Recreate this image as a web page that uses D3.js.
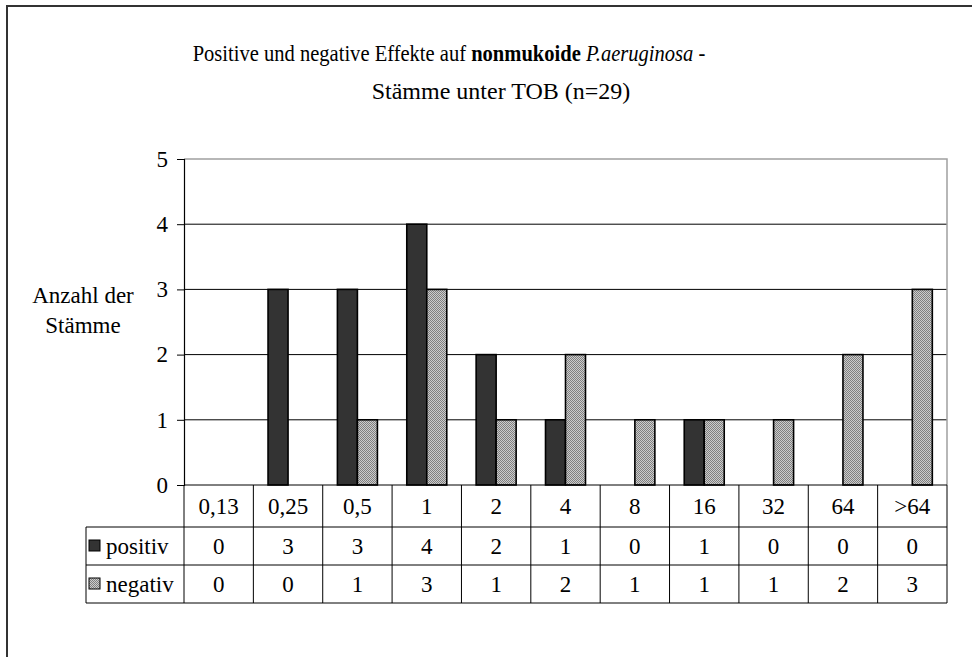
<!DOCTYPE html>
<html>
<head>
<meta charset="utf-8">
<script src="https://cdn.jsdelivr.net/npm/d3@7"></script>
<style>
  body { margin: 0; background: #fff; }
  text { font-family: "Liberation Serif", "Times New Roman", serif; fill: #000; }
</style>
</head>
<body>
<div id="chart"></div>
<script>
const categories = ['0,13', '0,25', '0,5', '1', '2', '4', '8', '16', '32', '64', '>64'];
const seriesNames = ['positiv', 'negativ'];
const positiv = [0, 3, 3, 4, 2, 1, 0, 1, 0, 0, 0];
const negativ = [0, 0, 1, 3, 1, 2, 1, 1, 1, 2, 3];
const yTicks = [0, 1, 2, 3, 4, 5];

const width = 972;
const height = 657;
const plot = { left: 184, right: 947, top: 159, bottom: 485 };
const rowH = [42, 38, 38];
const tableLeft = 86;
const fontSize = '23px';

const svg = d3.select('#chart')
    .append('svg')
    .attr('width', width)
    .attr('height', height);

// checker pattern for the grey series
const defs = svg.append('defs');
const pat = defs.append('pattern')
    .attr('id', 'grey-check')
    .attr('width', 2)
    .attr('height', 2)
    .attr('patternUnits', 'userSpaceOnUse');
pat.append('rect').attr('width', 2).attr('height', 2).attr('fill', '#cccccc');
pat.append('rect').attr('width', 1).attr('height', 1).attr('fill', '#808080');
pat.append('rect').attr('x', 1).attr('y', 1).attr('width', 1).attr('height', 1).attr('fill', '#808080');

const fills = { positiv: '#333333', negativ: 'url(#grey-check)' };

// outer frame (runs off the page on right and bottom)
svg.append('path')
    .attr('d', 'M7,' + (height + 5) + 'V6H' + (width + 5))
    .attr('fill', 'none')
    .attr('stroke', '#333')
    .attr('stroke-width', 2);

// title, two lines
const t1 = svg.append('text')
    .attr('x', 0)
    .attr('y', 0)
    .attr('text-anchor', 'middle')
    .style('font-size', '23px');
t1.append('tspan').text('Positive und negative Effekte auf ');
t1.append('tspan').style('font-weight', 'bold').text('nonmukoide');
t1.append('tspan').text(' ');
t1.append('tspan').style('font-style', 'italic').text('P.aeruginosa');
t1.append('tspan').text(' -');
// line 1 is narrower in the original; squeeze it sideways to that width
const w1 = t1.node().getComputedTextLength();
t1.attr('transform', 'translate(449,61) scale(' + (513 / w1).toFixed(4) + ',1)');

svg.append('text')
    .attr('x', 501)
    .attr('y', 99)
    .attr('text-anchor', 'middle')
    .style('font-size', '24px')
    .text('Stämme unter TOB (n=29)');

const xScale = d3.scaleBand()
    .domain(categories)
    .range([plot.left, plot.right]);

const xInner = d3.scaleBand()
    .domain(seriesNames)
    .range([0, 40]);

const yScale = d3.scaleLinear()
    .domain([0, 5])
    .range([plot.bottom, plot.top]);

// gridlines
svg.append('g')
    .selectAll('line')
    .data(yTicks.filter(d => d > 0 && d < 5))
    .enter()
    .append('line')
    .attr('x1', plot.left)
    .attr('x2', plot.right)
    .attr('y1', d => yScale(d))
    .attr('y2', d => yScale(d))
    .attr('stroke', '#000')
    .attr('stroke-width', 1);

// plot-area border top/right in grey
svg.append('path')
    .attr('d', 'M' + plot.left + ',' + plot.top + 'H' + plot.right + 'V' + plot.bottom)
    .attr('fill', 'none')
    .attr('stroke', '#a0a0a0')
    .attr('stroke-width', 1.5);

// bars
const rows = [positiv, negativ];
seriesNames.forEach((name, si) => {
    svg.append('g')
        .selectAll('rect')
        .data(categories.map((c, i) => ({ c: c, v: rows[si][i] })).filter(d => d.v > 0))
        .enter()
        .append('rect')
        .attr('x', d => xScale(d.c) + xScale.bandwidth() / 2 - 20 + xInner(name))
        .attr('y', d => yScale(d.v))
        .attr('width', xInner.bandwidth())
        .attr('height', d => yScale(0) - yScale(d.v))
        .attr('fill', fills[name])
        .attr('stroke', '#000')
        .attr('stroke-width', 1.6);
});

// y axis
const yAxis = d3.axisLeft(yScale)
    .tickValues(yTicks)
    .tickSize(7)
    .tickPadding(9)
    .tickFormat(d3.format('d'));

const yg = svg.append('g')
    .attr('transform', 'translate(' + plot.left + ',0)')
    .call(yAxis);
yg.attr('font-family', null).attr('font-size', null);
yg.select('.domain').attr('stroke', '#000').attr('stroke-width', 1.2);
yg.selectAll('.tick line').attr('stroke', '#000');
yg.selectAll('.tick text')
    .style('font-size', fontSize)
    .attr('fill', '#000');

// y label
const ylab = svg.append('text')
    .attr('text-anchor', 'middle')
    .style('font-size', fontSize);
ylab.append('tspan').attr('x', 83).attr('y', 303).text('Anzahl der');
ylab.append('tspan').attr('x', 83).attr('y', 333).text('Stämme');

// data table
const tableTop = plot.bottom;
const rowY = [tableTop, tableTop + rowH[0], tableTop + rowH[0] + rowH[1], tableTop + rowH[0] + rowH[1] + rowH[2]];
const table = svg.append('g');
const lineAttr = sel => sel.attr('stroke', '#000').attr('stroke-width', 1);

// horizontal lines
table.append('line').call(lineAttr)
    .attr('x1', plot.left).attr('x2', plot.right).attr('y1', rowY[0]).attr('y2', rowY[0]);
[1, 2, 3].forEach(k => {
    table.append('line').call(lineAttr)
        .attr('x1', tableLeft).attr('x2', plot.right).attr('y1', rowY[k]).attr('y2', rowY[k]);
});
// vertical lines
table.selectAll('.vline')
    .data(categories)
    .enter()
    .append('line')
    .call(lineAttr)
    .attr('x1', d => xScale(d) + xScale.bandwidth())
    .attr('x2', d => xScale(d) + xScale.bandwidth())
    .attr('y1', rowY[0])
    .attr('y2', rowY[3]);
table.append('line').call(lineAttr)
    .attr('x1', plot.left).attr('x2', plot.left).attr('y1', rowY[0]).attr('y2', rowY[3]);
table.append('line').call(lineAttr)
    .attr('x1', tableLeft).attr('x2', tableLeft).attr('y1', rowY[1]).attr('y2', rowY[3]);

// header labels
table.selectAll('.hdr')
    .data(categories)
    .enter()
    .append('text')
    .attr('x', d => xScale(d) + xScale.bandwidth() / 2)
    .attr('y', (rowY[0] + rowY[1]) / 2 + 8)
    .attr('text-anchor', 'middle')
    .style('font-size', fontSize)
    .text(d => d);

// value rows
seriesNames.forEach((name, si) => {
    const cy = (rowY[si + 1] + rowY[si + 2]) / 2;
    table.append('rect')
        .attr('x', tableLeft + 3)
        .attr('y', cy - 6)
        .attr('width', 11)
        .attr('height', 11)
        .attr('fill', fills[name])
        .attr('stroke', '#000')
        .attr('stroke-width', 1);
    table.append('text')
        .attr('x', tableLeft + 20)
        .attr('y', cy + 8)
        .style('font-size', fontSize)
        .text(name);
    table.selectAll('.v' + si)
        .data(rows[si])
        .enter()
        .append('text')
        .attr('x', (d, i) => xScale(categories[i]) + xScale.bandwidth() / 2)
        .attr('y', cy + 8)
        .attr('text-anchor', 'middle')
        .style('font-size', fontSize)
        .text(d => d);
});
</script>
</body>
</html>
